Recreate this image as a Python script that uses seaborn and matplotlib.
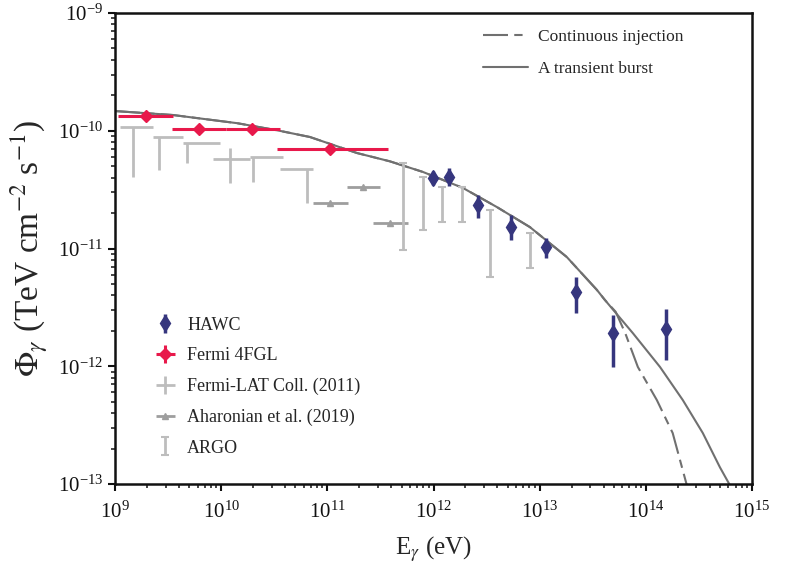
import numpy as np
import pandas as pd
import matplotlib
matplotlib.use("Agg")
import matplotlib.pyplot as plt
import matplotlib.ticker as mticker
import seaborn as sns

# ---------------- data ----------------
# Model curves: common part, then the two tails
curve_common_E = [1.0e9, 3.52e9, 1.41e10, 3.35e10, 6.85e10, 1.90e11, 3.88e11, 7.94e11,
                  1.89e12, 3.95e12, 8.09e12, 1.80e13, 3.46e13, 4.11e13]
curve_common_F = [1.47e-10, 1.36e-10, 1.16e-10, 1.01e-10, 8.85e-11, 6.47e-11, 5.50e-11, 4.47e-11,
                  3.27e-11, 2.25e-11, 1.52e-11, 8.47e-12, 4.45e-12, 3.66e-12]
burst_tail_E = [7.55e13, 1.36e14, 2.23e14, 3.44e14, 4.98e14, 6.18e14]
burst_tail_F = [1.91e-12, 9.86e-13, 5.16e-13, 2.71e-13, 1.39e-13, 9.8e-14]
cont_tail_E = [5.2e13, 6.4e13, 8.41e13, 1.27e14, 1.79e14, 2.43e14]
cont_tail_F = [2.9e-12, 1.91e-12, 9.86e-13, 5.16e-13, 2.71e-13, 9.8e-14]

# HAWC
hawc_E = [9.8e11, 1.41e12, 2.63e12, 5.37e12, 1.15e13, 2.19e13, 4.9e13, 1.55e14]
hawc_F = [3.98e-11, 4.07e-11, 2.34e-11, 1.51e-11, 1.02e-11, 4.27e-12, 1.91e-12, 2.09e-12]
hawc_Flo = [3.47e-11, 3.39e-11, 1.82e-11, 1.17e-11, 8.3e-12, 2.82e-12, 9.8e-13, 1.12e-12]
hawc_Fhi = [4.57e-11, 4.79e-11, 2.82e-11, 1.91e-11, 1.23e-11, 5.75e-12, 2.75e-12, 3.09e-12]

# Fermi 4FGL
fgl_E = [1.95e9, 6.17e9, 1.95e10, 1.05e11]
fgl_Elo = [1.07e9, 3.47e9, 1.10e10, 3.39e10]
fgl_Ehi = [3.55e9, 1.10e10, 3.55e10, 3.70e11]
fgl_F = [1.33e-10, 1.035e-10, 1.035e-10, 7.0e-11]
fgl_Flo = [1.21e-10, 0.95e-10, 0.95e-10, 6.4e-11]
fgl_Fhi = [1.46e-10, 1.13e-10, 1.13e-10, 7.6e-11]

# Fermi-LAT Coll. (2011)
lat_E = [1.48e9, 2.6e9, 4.76e9, 1.21e10, 2.0e10, 6.43e10]
lat_Elo = [1.11e9, 2.28e9, 4.37e9, 8.37e9, 1.87e10, 3.58e10]
lat_Ehi = [2.28e9, 4.37e9, 9.75e9, 1.87e10, 3.82e10, 7.31e10]
lat_F = [1.08e-10, 8.85e-11, 7.87e-11, 5.75e-11, 5.98e-11, 4.73e-11]
lat_Flo = [4.05e-11, 4.65e-11, 5.32e-11, 3.6e-11, 3.67e-11, 2.43e-11]
lat_Fhi = [1.08e-10, 8.85e-11, 7.87e-11, 7.14e-11, 5.98e-11, 4.73e-11]

# Aharonian et al. (2019)
aha_E = [1.06e11, 2.16e11, 3.88e11]
aha_Elo = [7.31e10, 1.53e11, 2.69e11]
aha_Ehi = [1.56e11, 3.13e11, 5.74e11]
aha_F = [2.43e-11, 3.33e-11, 1.65e-11]
aha_Flo = [2.30e-11, 2.96e-11, 1.58e-11]
aha_Fhi = [2.56e-11, 3.60e-11, 1.72e-11]

# ARGO
argo_E = [5.15e11, 7.94e11, 1.2e12, 1.85e12, 3.4e12, 8.09e12]
argo_F = [3.02e-11, 2.58e-11, 2.58e-11, 2.58e-11, 1.38e-11, 9.7e-12]
argo_Flo = [9.7e-12, 1.44e-11, 1.68e-11, 1.68e-11, 5.73e-12, 6.82e-12]
argo_Fhi = [5.32e-11, 4.05e-11, 3.33e-11, 3.33e-11, 2.12e-11, 1.36e-11]

x_ticks = [1e9, 1e10, 1e11, 1e12, 1e13, 1e14, 1e15]
y_ticks = [1e-13, 1e-12, 1e-11, 1e-10, 1e-9]

# ---------------- style ----------------
sns.set_theme(style="ticks")
plt.rcParams["font.family"] = ["Liberation Serif", "DejaVu Serif"]
plt.rcParams["mathtext.fontset"] = "stix"

fig = plt.figure(figsize=(7.9, 5.74), dpi=100)
ax = fig.add_axes([115 / 790, 1 - 484 / 574, 637 / 790, 471 / 574])
ax.set_xscale("log")
ax.set_yscale("log")

curve_col = "#707070"
burst_df = pd.DataFrame({"E": curve_common_E + burst_tail_E, "F": curve_common_F + burst_tail_F})
cont_df = pd.DataFrame({"E": curve_common_E + cont_tail_E, "F": curve_common_F + cont_tail_F})
sns.lineplot(data=cont_df, x="E", y="F", ax=ax, color=curve_col, lw=1.5,
             linestyle=(0, (12, 3, 4, 3)), sort=True, estimator=None)
sns.lineplot(data=burst_df, x="E", y="F", ax=ax, color=curve_col, lw=1.5,
             sort=True, estimator=None)
line_cont = ax.lines[0]
line_burst = ax.lines[1]


def asym(v, lo, hi):
    v = np.asarray(v)
    return [v - np.asarray(lo), np.asarray(hi) - v]


light = "#bdbdbd"
mid = "#9e9e9e"
h_lat = ax.errorbar(lat_E, lat_F, xerr=asym(lat_E, lat_Elo, lat_Ehi),
                    yerr=asym(lat_F, lat_Flo, lat_Fhi), fmt="none",
                    ecolor=light, elinewidth=2, capsize=0, zorder=2)
h_aha = ax.errorbar(aha_E, aha_F, xerr=asym(aha_E, aha_Elo, aha_Ehi),
                    fmt="^", color=mid, ms=5, ecolor=mid, elinewidth=2, capsize=0, zorder=2)
h_argo = ax.errorbar(argo_E, argo_F, yerr=asym(argo_F, argo_Flo, argo_Fhi), fmt="none",
                     ecolor=light, elinewidth=2, capsize=3, capthick=1.5, zorder=2)
h_fgl = ax.errorbar(fgl_E, fgl_F, xerr=asym(fgl_E, fgl_Elo, fgl_Ehi),
                    yerr=asym(fgl_F, fgl_Flo, fgl_Fhi), fmt="D", color="#e8194b",
                    ms=6, ecolor="#e8194b", elinewidth=2.2, capsize=0, zorder=4)
h_hawc = ax.errorbar(hawc_E, hawc_F, yerr=asym(hawc_F, hawc_Flo, hawc_Fhi), fmt="d",
                     color="#36367e", ms=8, ecolor="#36367e", elinewidth=2.5, capsize=0, zorder=5)

ax.set_xlim(1e9, 1e15)
ax.set_ylim(1e-13, 1e-9)
ax.xaxis.set_major_locator(mticker.FixedLocator(x_ticks))
ax.yaxis.set_major_locator(mticker.FixedLocator(y_ticks))
ax.xaxis.set_major_formatter(mticker.LogFormatterSciNotation())
ax.yaxis.set_major_formatter(mticker.LogFormatterSciNotation())
ax.xaxis.set_minor_locator(mticker.LogLocator(base=10, subs=np.arange(2, 10), numticks=100))
ax.yaxis.set_minor_locator(mticker.LogLocator(base=10, subs=np.arange(2, 10), numticks=100))
ax.xaxis.set_minor_formatter(mticker.NullFormatter())
ax.yaxis.set_minor_formatter(mticker.NullFormatter())
ax.tick_params(which="major", direction="out", length=5, width=1.5, labelsize=15,
               colors="#111111", top=False, right=False)
ax.tick_params(which="minor", direction="out", length=3, width=1.2, top=False, right=False)
ax.tick_params(axis="x", which="major", pad=8)
for s in ax.spines.values():
    s.set_visible(True)
    s.set_color("#111111")
    s.set_linewidth(1.8)

ax.set_xlabel(r"E$_\gamma$ (eV)", fontsize=18, labelpad=8)
ax.set_ylabel(r"$\Phi_\gamma$ (TeV cm$^{-2}$ s$^{-1}$)", fontsize=24, labelpad=6)

leg1 = ax.legend([h_hawc, h_fgl, h_lat, h_aha, h_argo],
                 ["HAWC", "Fermi 4FGL", "Fermi-LAT Coll. (2011)", "Aharonian et al. (2019)", "ARGO"],
                 loc="upper left", bbox_to_anchor=(0.058, 0.355), frameon=False,
                 fontsize=13, handlelength=1.5, handletextpad=0.45, labelspacing=0.75,
                 borderpad=0, borderaxespad=0)
ax.add_artist(leg1)
ax.legend([line_cont, line_burst], ["Continuous injection", "A transient burst"],
          loc="upper left", bbox_to_anchor=(0.578, 0.966), frameon=False,
          fontsize=12.5, handlelength=2.6, handletextpad=0.55, labelspacing=0.9,
          borderpad=0, borderaxespad=0)

fig.savefig("out.png", dpi=100, facecolor="white")
